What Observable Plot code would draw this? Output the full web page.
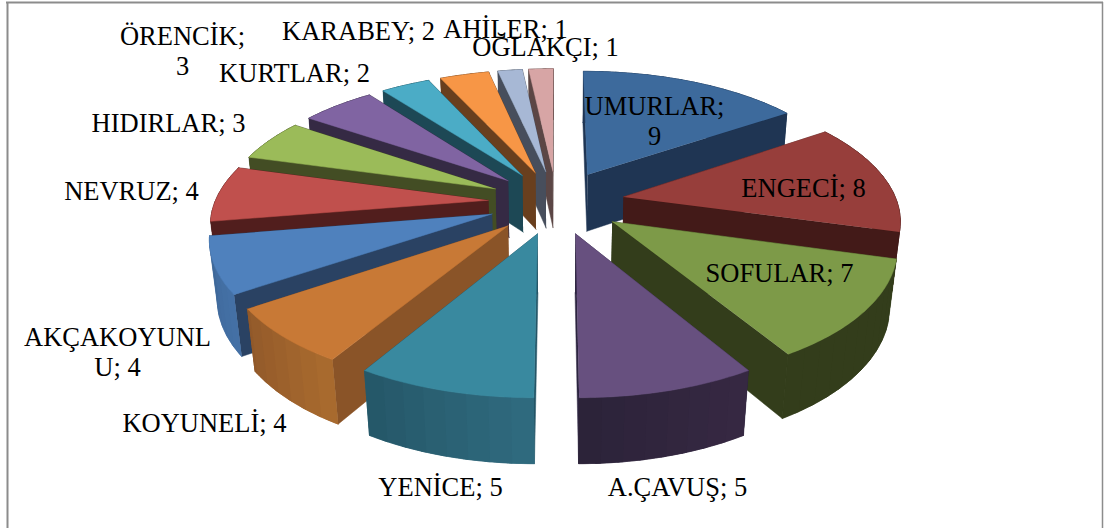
<!DOCTYPE html>
<html><head><meta charset="utf-8">
<style>html,body{margin:0;padding:0;background:#fff}svg{display:block}</style>
<script src="https://cdn.jsdelivr.net/npm/d3@7"></script>
<script src="https://cdn.jsdelivr.net/npm/@observablehq/plot@0.6"></script>
</head><body><div id="c"></div>
<script>
const names = ["UMURLAR","ENGECİ","SOFULAR","A.ÇAVUŞ","YENİCE","KOYUNELİ","AKÇAKOYUNLU","NEVRUZ","HIDIRLAR","ÖRENCİK","KURTLAR","KARABEY","AHİLER","OĞLAKÇI"];
const values = [9,8,7,5,5,4,4,4,3,3,2,2,1,1];
const labelTexts = ["UMURLAR;\n9","ENGECİ; 8","SOFULAR; 7","A.ÇAVUŞ; 5","YENİCE; 5","KOYUNELİ; 4","AKÇAKOYUNL\nU; 4","NEVRUZ; 4","HIDIRLAR; 3","ÖRENCİK;\n3","KURTLAR; 2","KARABEY; 2","AHİLER; 1","OĞLAKÇI; 1"];
const labelX = [654,803,779,677,440,204,117,131,168,182,294,358,505,545];
const labelY = [120,187,272,486,486,422,351,190,122,50,72,30,28,46];
const topColors = ["#3d6a9c","#973e3b","#7d9a48","#67507f","#39899f","#c87936","#4f81bd","#c0504d","#9bbb59","#8064a2","#4bacc6","#f79646","#a7b8d5","#d7a5a5"];
const cutColors = ["#1f3553","#431a18","#333d1b","#2d2440","#245566","#8a5428","#2a4263","#511e1d","#434d24","#352a44","#1d4855","#693f1e","#474e5c","#5b4645"];
const arcFrom = ["#1f3553","#431a18","#333d1b","#362842","#2f6a7e","#a86a2e","#4470a5","#511e1d","#434d24","#352a44","#1d4855","#693f1e","#474e5c","#5b4645"];
const arcTo = ["#1f3553","#431a18","#333d1b","#2a2238","#245566","#90582a","#3f6898","#511e1d","#434d24","#352a44","#1d4855","#693f1e","#474e5c","#5b4645"];

// projection of the exploded pie
const W = 1104, H = 528;
const cx = 556, cy = 201.5, R = 272, E = 68, D = 1750, TILT = 0.468, DEPTH = 59, DW = 0.022, XS = 1.005;
function project(X, Y, low) {
  const w = 1 - Y / D + (low ? DW : 0);
  return [cx + XS * X / w, cy + (TILT * Y + (low ? DEPTH : 0)) / w];
}
const total = d3.sum(values);
const rows = [];
let nid = 0;
function poly(pts, color) {
  const id = nid++;
  for (const p of pts) rows.push({id, x: p[0], y: p[1], color});
}
const slices = [];
let acc = 0;
values.forEach((v, i) => {
  const a0 = acc / total * 2 * Math.PI;
  acc += v;
  const a1 = acc / total * 2 * Math.PI;
  const mid = (a0 + a1) / 2;
  slices.push({i, a0, a1, mid, ax: E * Math.sin(mid), ay: -E * Math.cos(mid)});
});
const ordered = slices.slice().sort((p, q) => p.ay - q.ay);
for (const s of ordered) {
  const n = Math.max(2, Math.ceil((s.a1 - s.a0) / (Math.PI / 180)));
  const arc = d3.range(n + 1).map(k => {
    const a = s.a0 + (s.a1 - s.a0) * k / n;
    return [s.ax + R * Math.sin(a), s.ay - R * Math.cos(a)];
  });
  const apex = [s.ax, s.ay];
  const cut = (o) => ({depth: (apex[1] + o[1]) / 2, draw() {
    poly([project(apex[0], apex[1], false), project(o[0], o[1], false), project(o[0], o[1], true), project(apex[0], apex[1], true)], cutColors[s.i]);
  }});
  const faces = [cut(arc[0]), cut(arc[n]), {depth: d3.mean(arc, p => p[1]), draw() {
    const mix = d3.interpolateRgb(arcFrom[s.i], arcTo[s.i]);
    // one solid wall first, so that the shading bands above it leave no seams
    poly([...arc.map(p => project(p[0], p[1], false)), ...arc.slice().reverse().map(p => project(p[0], p[1], true))], mix(0.5));
    for (let k = 0; k < n; k += 4) {
      const e = Math.min(n, k + 5);
      const band = arc.slice(k, e + 1);
      poly([...band.map(p => project(p[0], p[1], false)), ...band.slice().reverse().map(p => project(p[0], p[1], true))], mix(k / n));
    }
  }}];
  faces.sort((p, q) => p.depth - q.depth).forEach(f => f.draw());
  poly([project(apex[0], apex[1], false), ...arc.map(p => project(p[0], p[1], false))], topColors[s.i]);
}
const labels = labelTexts.map((t, i) => ({t, x: labelX[i], y: labelY[i]}));

const chart = Plot.plot({
  width: W, height: H, margin: 0,
  x: {axis: null, domain: [0, W], range: [0, W]},
  y: {axis: null, domain: [0, H], range: [0, H]},
  color: {type: "identity"},
  marks: [
    Plot.ruleX([7], {y1: 2, y2: H, stroke: "#8c8c8c", strokeWidth: 2}),
    Plot.ruleX([1102], {y1: 2, y2: H, stroke: "#8c8c8c", strokeWidth: 1.5}),
    Plot.ruleY([2], {x1: 6, x2: 1103, stroke: "#8c8c8c", strokeWidth: 2}),
    Plot.line(rows, {x: "x", y: "y", z: "id", fill: "color", stroke: "color", strokeWidth: 0.5, curve: "linear"}),
    Plot.text(labels, {x: "x", y: "y", text: "t", fontFamily: "Liberation Serif", fontSize: 26.5, fill: "#000", textAnchor: "middle", lineHeight: 1.13})
  ]
});
chart.style.background = "#fff";
document.getElementById("c").appendChild(chart);
</script></body></html>
